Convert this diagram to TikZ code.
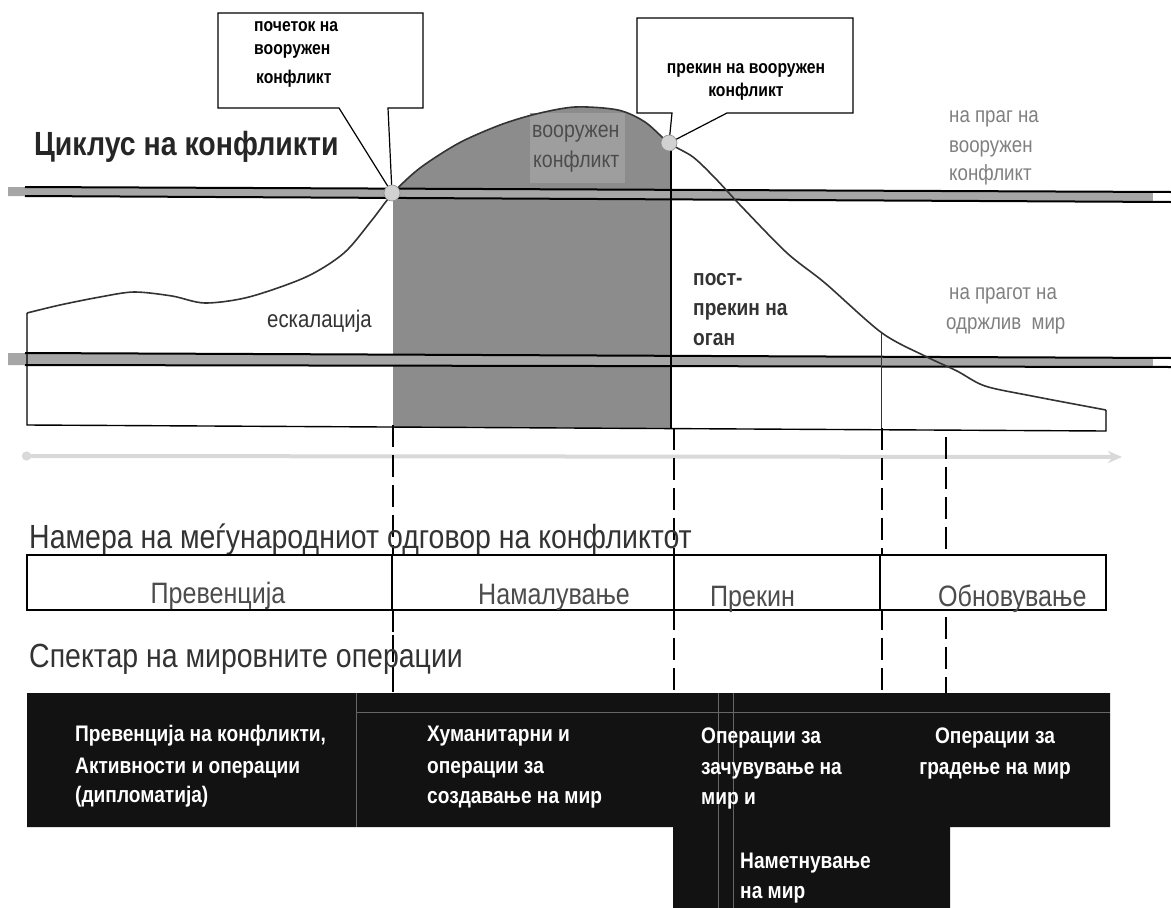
\documentclass[tikz,border=0pt]{standalone}
\usepackage{fontspec}
\setmainfont{Liberation Sans}
\newfontfamily\nar[FakeStretch=0.85]{Liberation Sans}
\usetikzlibrary{arrows.meta}
\newcommand{\fsz}[1]{\fontsize{#1}{#1}\selectfont}
\tikzset{
  lbl/.style={inner sep=0pt, anchor=base west},
  lblc/.style={inner sep=0pt, anchor=base},
  bandline/.style={line width=2pt, black},
  bandfill/.style={fill=black!35},
  chartline/.style={line width=1.4pt, black},
  curveline/.style={line width=1.6pt, black!80},
  callout/.style={fill=white, draw=black, line width=1.2pt},
  dot/.style={circle, fill=black!18, draw=black!45, line width=0.6pt, minimum size=16pt, inner sep=0pt},
  guide/.style={line width=1.3pt, black, dash pattern=on 22pt off 8pt},
  tablebox/.style={draw=black, line width=2pt},
  darkbox/.style={fill=black!93},
  thin/.style={line width=0.8pt, black!60},
  wtxt/.style={lbl, text=white, font=\nar\bfseries\fsz{22.5}},
  calltxt/.style={lbl, font=\nar\bfseries\fsz{18.5}},
  graytxt/.style={lbl, text=black!50, font=\nar\fsz{22}},
}
\begin{document}
\begin{tikzpicture}[x=1pt,y=-1pt]
\useasboundingbox (0,0) rectangle (1171,908);
\fill[white] (0,0) rectangle (1171,908);

% ---- gray region under curve between onset and ceasefire
\begin{scope}
\clip (393,0) rectangle (670,440);
\fill[black!45] plot[smooth, tension=0.5] coordinates {(27,313) (60,305) (100,297) (134,292) (172,296) (205,303) (249,297) (306,277) (344,253) (372,220) (393,193) (420,168) (459,143) (500,125) (536,114) (575,107) (618,110) (645,122) (669,143) (693,157) (715,178) (742,207) (787,253) (825,283) (882,333) (927,357) (957,371) (985,386) (1032,396) (1106,410)} -- (1106,431) -- (27,425) -- cycle;
\end{scope}
\node[inner sep=0pt, fill=black!38, minimum width=95pt, minimum height=70pt, anchor=north west] (armbg) at (530,113) {};
\node[lbl, text=black!70, font=\nar\fsz{23}] (arm1) at (532,137) {вооружен};
\node[lbl, text=black!70, font=\nar\fsz{23}] (arm2) at (533,167) {конфликт};

% ---- bands
\fill[bandfill] (8,187) -- (1153,192) -- (1153,202) -- (8,196) -- cycle;
\fill[white] (1153,192) -- (1171,192) -- (1171,202) -- (1153,202) -- cycle;
\draw[bandline] (25,187) -- (1171,192);
\draw[bandline] (25,196) -- (1171,202);
\fill[bandfill] (8,353) -- (1153,358) -- (1153,367) -- (8,365) -- cycle;
\fill[white] (1153,358) -- (1171,358) -- (1171,367) -- (1153,367) -- cycle;
\draw[bandline] (25,353) -- (1171,358);
\draw[bandline] (25,365) -- (1171,367);

% ---- curve and chart frame
\coordinate (cs) at (27,313);
\coordinate (ce) at (1106,410);
\coordinate (bl) at (27,425);
\coordinate (br) at (1106,431);
\draw[curveline] plot[smooth, tension=0.5] coordinates {(27,313) (60,305) (100,297) (134,292) (172,296) (205,303) (249,297) (306,277) (344,253) (372,220) (393,193) (420,168) (459,143) (500,125) (536,114) (575,107) (618,110) (645,122) (669,143) (693,157) (715,178) (742,207) (787,253) (825,283) (882,333) (927,357) (957,371) (985,386) (1032,396) (1106,410)};
\draw[chartline] (cs) -- (bl) -- (br) -- (ce);
\coordinate (v2t) at (671,143);
\coordinate (v2b) at (671,428);
\draw[chartline] (v2t) -- (v2b);
\coordinate (v3t) at (881,333);
\coordinate (v3b) at (881,428);
\draw[line width=1pt, black!80] (v3t) -- (v3b);

% ---- callouts
\coordinate (p1) at (392,193);
\coordinate (p2) at (669,143);
\draw[callout] (218,108) -- (339,108) -- (p1) -- (388,108) -- (423,108) -- (423,13) -- (218,13) -- cycle;
\draw[callout] (637,113) -- (672,113) -- (p2) -- (727,113) -- (853,113) -- (853,18) -- (637,18) -- cycle;
\node[dot] (d1) at (p1) {};
\node[dot] (d2) at (p2) {};
\node[calltxt] (c1a) at (254,31) {почеток на};
\node[calltxt] (c1b) at (254,54) {вооружен};
\node[calltxt] (c1c) at (256,83) {конфликт};
\node[lblc, font=\nar\bfseries\fsz{18.5}] (c2a) at (746,73) {прекин на вооружен};
\node[lblc, font=\nar\bfseries\fsz{18.5}] (c2b) at (746,96) {конфликт};

% ---- chart texts
\node[lbl, font=\nar\bfseries\fsz{33.5}, text=black!85] (title) at (34,155) {Циклус на конфликти};
\node[lbl, font=\nar\fsz{24}, text=black!80] (esc) at (267,327) {ескалација};
\node[lbl, font=\nar\bfseries\fsz{22.5}, text=black!80] (pc1) at (693,285) {пост-};
\node[lbl, font=\nar\bfseries\fsz{22.5}, text=black!80] (pc2) at (693,315) {прекин на};
\node[lbl, font=\nar\bfseries\fsz{22.5}, text=black!80] (pc3) at (693,345) {оган};
\node[graytxt] (th1) at (949,122) {на праг на};
\node[graytxt] (th2) at (949,152) {вооружен};
\node[graytxt] (th3) at (949,180) {конфликт};
\node[graytxt] (sp1) at (949,299) {на прагот на};
\node[graytxt] (sp2) at (946,329) {одржлив\ \ мир};

% ---- time arrow
\coordinate (a0) at (22,456);
\coordinate (a1) at (1122,457);
\draw[black!15, line width=4pt, arrows={Circle[length=9pt]-Stealth[length=14pt,width=12pt]}] (a0) -- (a1);

% ---- guide lines
\coordinate (g1t) at (393,425);
\coordinate (g1b) at (393,693);
\coordinate (g2t) at (674,428);
\coordinate (g2b) at (674,693);
\coordinate (g3t) at (882,428);
\coordinate (g3b) at (882,693);
\coordinate (g4t) at (946,437);
\coordinate (g4b) at (946,693);
\draw[guide] (g1t) -- (g1b);
\draw[guide] (g2t) -- (g2b);
\draw[guide] (g3t) -- (g3b);
\draw[guide] (g4t) -- (g4b);

% ---- intention table
\node[lbl, font=\nar\fsz{33.5}, text=black!80] (intent) at (29,548) {Намера на меѓународниот одговор на конфликтот};
\draw[tablebox, fill=white] (27,555) rectangle (1106,610);
\draw[tablebox] (392,555) -- (392,610);
\draw[tablebox] (674,555) -- (674,610);
\draw[tablebox] (880,555) -- (880,610);
\draw[guide] (393,610) -- (393,693);
\node[lblc, font=\nar\fsz{29.5}, text=black!70] (t1) at (218,603) {Превенција};
\node[lbl, font=\nar\fsz{29.5}, text=black!70] (t2) at (478,604) {Намалување};
\node[lbl, font=\nar\fsz{29.5}, text=black!70] (t3) at (710,606) {Прекин};
\node[lbl, font=\nar\fsz{29.5}, text=black!70] (t4) at (938,606) {Обновување};

% ---- spectrum of operations
\node[lbl, font=\nar\fsz{33.5}, text=black!80] (spec) at (29,667) {Спектар на мировните операции};
\fill[darkbox] (27,693) -- (1110,693) -- (1110,827) -- (950,827) -- (950,908) -- (673,908) -- (673,827) -- (27,827) -- cycle;
\draw[thin] (356,693) -- (356,827);
\draw[thin] (356,712) -- (1110,712);
\draw[thin] (718,693) -- (718,908);
\draw[thin] (733,693) -- (733,908);
\node[wtxt] (o1a) at (75,741) {Превенција на конфликти,};
\node[wtxt] (o1b) at (75,773) {Активности и операции};
\node[wtxt] (o1c) at (75,802) {(дипломатија)};
\node[wtxt] (o2a) at (427,741) {Хуманитарни и};
\node[wtxt] (o2b) at (427,773) {операции за};
\node[wtxt] (o2c) at (427,803) {создавање на мир};
\node[wtxt] (o3a) at (701,743) {Операции за};
\node[wtxt] (o3b) at (701,774) {зачувување на};
\node[wtxt] (o3c) at (701,804) {мир и};
\node[wtxt, anchor=base] (o4a) at (995,743) {Операции за};
\node[wtxt, anchor=base] (o4b) at (995,774) {градење на мир};
\node[wtxt] (o5a) at (740,868) {Наметнување};
\node[wtxt] (o5b) at (740,898) {на мир};
\end{tikzpicture}
\end{document}
